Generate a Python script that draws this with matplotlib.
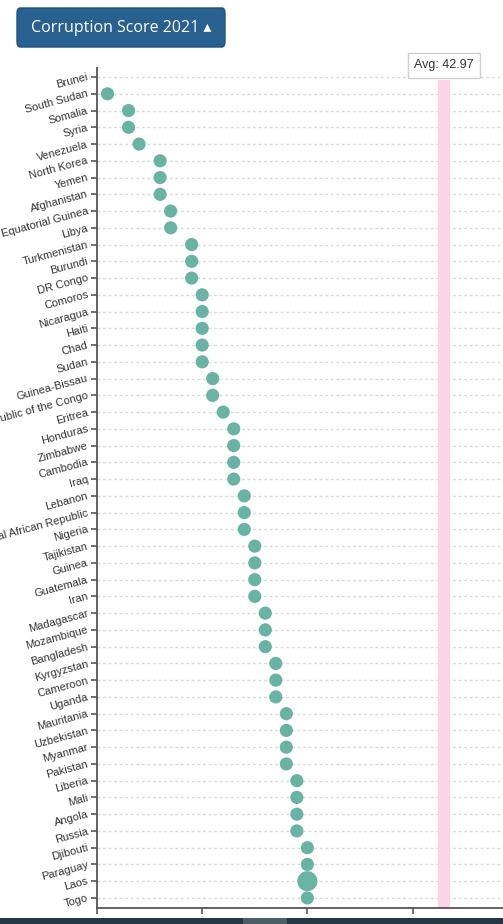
import matplotlib
matplotlib.use("Agg")
import matplotlib.pyplot as plt
import matplotlib.transforms as mtransforms
from matplotlib.patches import FancyBboxPatch, Rectangle
import numpy as np

# Countries (top to bottom) and their 2021 corruption scores
countries = ['Brunei', 'South Sudan', 'Somalia', 'Syria', 'Venezuela', 'North Korea', 'Yemen',
             'Afghanistan', 'Equatorial Guinea', 'Libya', 'Turkmenistan', 'Burundi', 'DR Congo',
             'Comoros', 'Nicaragua', 'Haiti', 'Chad', 'Sudan', 'Guinea-Bissau',
             'Republic of the Congo', 'Eritrea', 'Honduras', 'Zimbabwe', 'Cambodia', 'Iraq',
             'Lebanon', 'Central African Republic', 'Nigeria', 'Tajikistan', 'Guinea',
             'Guatemala', 'Iran', 'Madagascar', 'Mozambique', 'Bangladesh', 'Kyrgyzstan',
             'Cameroon', 'Uganda', 'Mauritania', 'Uzbekistan', 'Myanmar', 'Pakistan', 'Liberia',
             'Mali', 'Angola', 'Russia', 'Djibouti', 'Paraguay', 'Laos', 'Togo']
scores = [np.nan, 11, 13, 13, 14, 16, 16,
          16, 17, 17, 19, 19, 19,
          20, 20, 20, 20, 20, 21,
          21, 22, 23, 23, 23, 23,
          24, 24, 24, 25, 25,
          25, 25, 26, 26, 26, 27,
          27, 27, 28, 28, 28, 28, 29,
          29, 29, 29, 30, 30, 30, 30]
highlight = 'Laos'
avg_score = 42.97
x_ticks = [10, 20, 30, 40]

fig = plt.figure(figsize=(5.03, 9.24), dpi=100)
ax = fig.add_axes([97 / 503, 16 / 924, 406 / 503, 840 / 924])

n = len(countries)
ypos = np.arange(n)

# dotted row guides
for y in ypos:
    ax.axhline(y, color='#d9d9d9', lw=1, ls=(0, (2, 2)), zorder=1)

# average band
ax.axvspan(avg_score - 0.55, avg_score + 0.55, ymin=0, ymax=0.986,
           color='#fbd5e6', lw=0, zorder=2)
ax.text(avg_score, 1.003, 'Avg: 42.97', transform=ax.get_xaxis_transform(),
        ha='center', va='center', fontsize=9, color='#333333', family='Liberation Sans',
        bbox=dict(boxstyle='square,pad=0.5', fc='white', ec='#d0d0d0', lw=1),
        clip_on=False, zorder=5)

sizes = [210 if c == highlight else 90 for c in countries]
ax.scatter(scores, ypos, s=sizes, color='#69b3a2', edgecolors='none', zorder=3)

ax.set_xlim(10, 48.6)
ax.set_ylim(n - 1 + 0.6, -0.54)
ax.set_yticks(ypos)
ax.set_yticklabels(countries, rotation=15, ha='right', va='center',
                   fontsize=8, color='#333333', family='Liberation Sans',
                   rotation_mode='anchor')
# nudge the slanted labels a little below their ticks
shift = mtransforms.ScaledTranslation(0, -3 / 100, fig.dpi_scale_trans)
for lab in ax.get_yticklabels():
    lab.set_transform(lab.get_transform() + shift)

ax.set_xticks(x_ticks)
ax.set_xticklabels([str(t) for t in x_ticks], rotation=45, ha='right', va='top',
                   fontsize=7.6, color='#333333', family='Liberation Sans')
ax.tick_params(axis='both', length=4.5, width=1.3, color='#666666', pad=2)

for side in ['top', 'right']:
    ax.spines[side].set_visible(False)
for side in ['left', 'bottom']:
    ax.spines[side].set_color('#555555')
    ax.spines[side].set_linewidth(1.3)

# dropdown button at the top
btn = FancyBboxPatch((17 / 503, 1 - 47 / 924), 208 / 503, 39 / 924,
                     boxstyle='round,pad=0,rounding_size=0.006',
                     transform=fig.transFigure, fc='#28608f', ec='#1f5480', lw=1)
fig.add_artist(btn)
fig.text(121 / 503, 1 - 28 / 924, 'Corruption Score 2021 \u25b4', color='white',
         fontsize=11.5, ha='center', va='center', family=['Open Sans', 'DejaVu Sans'])

# dark strip at the very bottom of the page
fig.add_artist(Rectangle((0, 0), 1, 6 / 924, transform=fig.transFigure,
                         fc='#233842', ec='none', zorder=10))
fig.add_artist(Rectangle((243 / 503, 0), 44 / 503, 6 / 924, transform=fig.transFigure,
                         fc='#4b5e66', ec='none', zorder=11))

fig.savefig('out.png', dpi=100)
